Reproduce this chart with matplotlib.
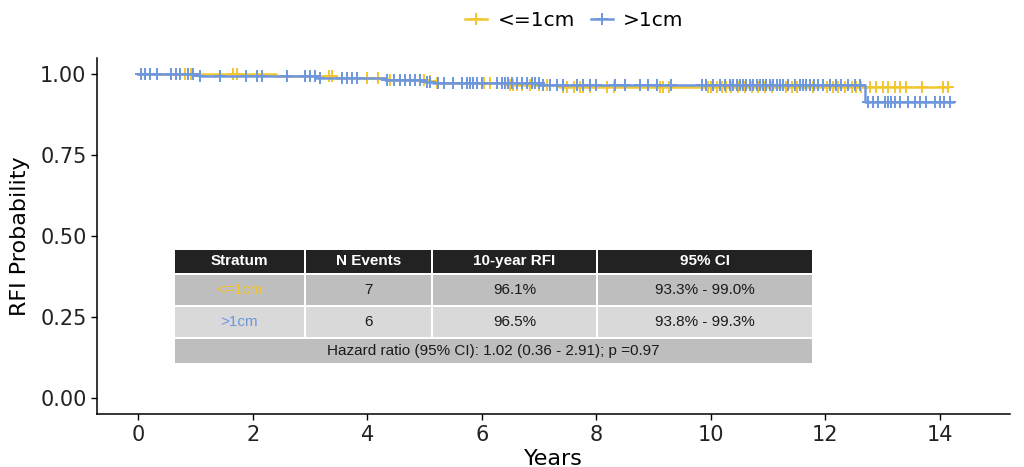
import numpy as np
import matplotlib.pyplot as plt
from matplotlib.lines import Line2D
from matplotlib.patches import Rectangle

plt.rcParams['font.family'] = ['DejaVu Sans']

# Kaplan-Meier Stufen (Zeit in Jahren, RFI-Wahrscheinlichkeit)
small_times = [0, 2.40, 3.45, 4.35, 5.05, 5.20, 6.45, 7.35]
small_surv = [1.0, 0.994, 0.989, 0.983, 0.978, 0.972, 0.967, 0.961]
small_end = 14.14

large_times = [0, 1.05, 3.10, 4.30, 5.00, 5.15, 7.00, 12.69]
large_surv = [1.0, 0.994, 0.988, 0.983, 0.977, 0.971, 0.965, 0.914]
large_end = 14.23

# Zensierungen
small_cens = [0.73, 0.82, 0.91, 1.66, 1.72, 2.59, 3.32, 3.38, 3.99, 4.19, 4.40, 4.57,
              4.98, 5.10, 5.21, 6.03, 6.14, 6.49, 6.55, 6.61, 6.70, 6.84, 6.99, 7.13,
              7.42, 7.48, 7.60, 7.71, 7.77, 7.89, 8.18, 8.30, 9.11, 9.17, 9.26, 9.95,
              10.01, 10.10, 10.19, 10.27, 10.36, 10.48, 10.59, 10.71, 10.83, 10.94,
              11.06, 11.32, 11.41, 11.50, 11.79, 12.02, 12.13, 12.22, 12.34, 12.46,
              12.54, 12.63, 12.78, 12.89, 13.00, 13.10, 13.21, 13.30, 13.41, 13.68,
              14.06, 14.14]
large_cens = [0.04, 0.12, 0.21, 0.33, 0.56, 0.65, 0.73, 0.87, 0.96, 1.08, 1.43, 1.87,
              2.07, 2.16, 2.59, 2.91, 3.00, 3.09, 3.18, 3.55, 3.64, 3.73, 3.82, 4.34,
              4.46, 4.57, 4.66, 4.75, 4.83, 4.92, 5.04, 5.10, 5.24, 5.33, 5.50, 5.65,
              5.74, 5.79, 5.85, 5.91, 6.00, 6.26, 6.35, 6.40, 6.46, 6.52, 6.61, 6.70,
              6.78, 6.87, 6.93, 6.99, 7.07, 7.19, 7.31, 7.42, 7.66, 7.77, 7.89, 8.00,
              8.32, 8.50, 8.76, 8.91, 9.05, 9.31, 9.84, 9.92, 10.04, 10.16, 10.24,
              10.33, 10.39, 10.45, 10.51, 10.56, 10.62, 10.68, 10.74, 10.80, 10.86,
              10.91, 10.97, 11.03, 11.09, 11.15, 11.20, 11.26, 11.35, 11.47, 11.55,
              11.61, 11.67, 11.73, 11.81, 11.87, 11.96, 12.08, 12.19, 12.28, 12.40,
              12.51, 12.60, 12.75, 12.83, 12.92, 13.04, 13.10, 13.15, 13.21, 13.30,
              13.44, 13.56, 13.65, 13.76, 13.91, 14.00, 14.08, 14.17]

# Tabelle
strata = ['<=1cm', '>1cm']
n_events = [7, 6]
rfi_10y = ['96.1%', '96.5%']
ci_95 = ['93.3% - 99.0%', '93.8% - 99.3%']
header = ['Stratum', 'N Events', '10-year RFI', '95% CI']
hr_text = 'Hazard ratio (95% CI): 1.02 (0.36 - 2.91); p =0.97'

yellow = '#F2C62E'
blue = '#6E97DD'
table_font = ['Liberation Sans', 'DejaVu Sans']


def surv_at(times, surv, t):
    idx = np.searchsorted(times, t, side='right') - 1
    return np.array(surv)[idx]


fig = plt.figure(figsize=(10.24, 4.67), dpi=100)
ax = fig.add_axes([0.0947, 0.113, 0.8916, 0.763])

for times, surv, end, cens, col in [(small_times, small_surv, small_end, small_cens, yellow),
                                     (large_times, large_surv, large_end, large_cens, blue)]:
    ax.step(list(times) + [end], list(surv) + [surv[-1]], where='post', color=col, lw=1.8)
    ax.plot(cens, surv_at(times, surv, cens), ls='none', marker='+', ms=8, mew=1.4, color=col)

ax.set_xlim(-0.725, 15.225)
ax.set_ylim(-0.05, 1.05)
ax.set_xticks(np.arange(0, 15, 2))
ax.set_yticks([0, 0.25, 0.5, 0.75, 1.0])
ax.set_yticklabels(['0.00', '0.25', '0.50', '0.75', '1.00'])
ax.tick_params(labelsize=15, length=4, width=1, colors='black', labelcolor='#222222')
for s in ['top', 'right']:
    ax.spines[s].set_visible(False)
for s in ['left', 'bottom']:
    ax.spines[s].set_linewidth(1.1)
ax.set_xlabel('Years', fontsize=16, labelpad=3)
ax.set_ylabel('RFI Probability', fontsize=16, labelpad=7)

# Tabelle im Plotbereich
col_edges = [0.61, 2.91, 5.13, 8.01, 11.78]
row_edges = [0.460, 0.383, 0.284, 0.185, 0.105]
row_colors = ['#222222', '#BEBEBE', '#D9D9D9', '#BEBEBE']
gap = 0.02
gy = 0.004
for r in range(4):
    y0, y1 = row_edges[r + 1], row_edges[r]
    if r == 3:
        spans = [(col_edges[0], col_edges[-1])]
    else:
        spans = list(zip(col_edges[:-1], col_edges[1:]))
    for x0, x1 in spans:
        ax.add_patch(Rectangle((x0 + gap, y0 + gy), x1 - x0 - 2 * gap, y1 - y0 - 2 * gy,
                               facecolor=row_colors[r], edgecolor='none', zorder=5))

centers = [(a + b) / 2 for a, b in zip(col_edges[:-1], col_edges[1:])]
ymid = [(a + b) / 2 for a, b in zip(row_edges[:-1], row_edges[1:])]
for c, h in zip(centers, header):
    ax.text(c, ymid[0], h, ha='center', va='center', color='white', fontsize=11,
            fontweight='bold', family=table_font, zorder=6)
for i, col in enumerate([yellow, blue]):
    row = [strata[i], str(n_events[i]), rfi_10y[i], ci_95[i]]
    for j, (c, txt) in enumerate(zip(centers, row)):
        ax.text(c, ymid[i + 1], txt, ha='center', va='center', fontsize=11,
                family=table_font, color=col if j == 0 else '#1a1a1a', zorder=6)
ax.text((col_edges[0] + col_edges[-1]) / 2, ymid[3], hr_text, ha='center', va='center',
        fontsize=11, family=table_font, color='#1a1a1a', zorder=6)

handles = [Line2D([], [], color=yellow, marker='+', ms=9, mew=1.4, lw=1.8),
           Line2D([], [], color=blue, marker='+', ms=9, mew=1.4, lw=1.8)]
fig.legend(handles, strata, loc='upper center', bbox_to_anchor=(0.561, 1.015), ncol=2,
           frameon=False, fontsize=14.5, handlelength=1.1, columnspacing=0.8, handletextpad=0.5)

fig.savefig('out.png', dpi=100)
